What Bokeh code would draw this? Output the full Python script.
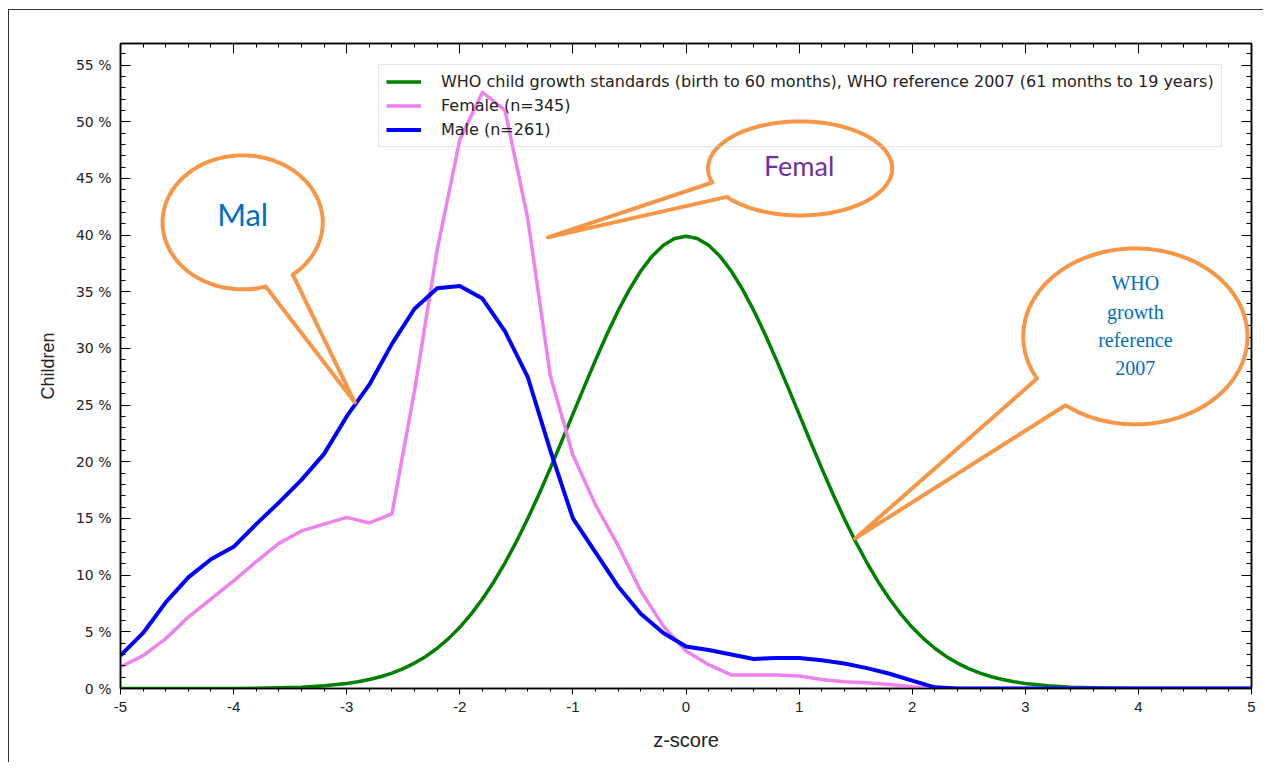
import numpy as np
from bokeh.plotting import figure
from bokeh.models import (Range1d, LinearAxis, SingleIntervalTicker, PrintfTickFormatter,
                          CustomJSTickFormatter, Legend, LegendItem)
from bokeh.core.properties import value
from bokeh.embed import file_html
from bokeh.resources import INLINE

# ---------------- data ----------------
z_score = [-5.0, -4.8, -4.6, -4.4, -4.2, -4.0, -3.8, -3.6, -3.4, -3.2,
           -3.0, -2.8, -2.6, -2.4, -2.2, -2.0, -1.8, -1.6, -1.4, -1.2,
           -1.0, -0.8, -0.6, -0.4, -0.2, 0.0, 0.2, 0.4, 0.6, 0.8,
           1.0, 1.2, 1.4, 1.6, 1.8, 2.0, 2.2, 2.4, 2.6, 2.8,
           3.0, 3.2, 3.4, 3.6, 3.8, 4.0, 4.2, 4.4, 4.6, 4.8, 5.0]

female_pct = [1.9, 2.9, 4.4, 6.3, 7.9, 9.5, 11.2, 12.8, 13.9, 14.5,
              15.1, 14.6, 15.4, 26.3, 38.7, 48.4, 52.6, 51.0, 41.5, 27.6,
              20.6, 16.2, 12.6, 8.6, 5.5, 3.3, 2.1, 1.2, 1.2, 1.2,
              1.1, 0.8, 0.6, 0.5, 0.35, 0.15, 0.0, 0.0, 0.0, 0.0,
              0.0, 0.0, 0.0, 0.0, 0.0, 0.0, 0.0, 0.0, 0.0, 0.0, 0.0]

male_pct = [2.9, 4.9, 7.6, 9.8, 11.4, 12.5, 14.5, 16.4, 18.4, 20.7,
            24.0, 26.8, 30.4, 33.5, 35.3, 35.5, 34.4, 31.5, 27.5, 21.0,
            15.0, 12.0, 9.0, 6.6, 4.9, 3.7, 3.4, 3.0, 2.6, 2.7,
            2.7, 2.5, 2.2, 1.8, 1.3, 0.7, 0.1, 0.0, 0.0, 0.0,
            0.0, 0.0, 0.0, 0.0, 0.0, 0.0, 0.0, 0.0, 0.0, 0.0, 0.0]

who_z = [-5.0, -4.5, -4.0, -3.8, -3.6, -3.4, -3.2,
         -3.0, -2.9, -2.8, -2.7, -2.6, -2.5, -2.4, -2.3, -2.2, -2.1,
         -2.0, -1.9, -1.8, -1.7, -1.6, -1.5, -1.4, -1.3, -1.2, -1.1,
         -1.0, -0.9, -0.8, -0.7, -0.6, -0.5, -0.4, -0.3, -0.2, -0.1,
         0.0, 0.1, 0.2, 0.3, 0.4, 0.5, 0.6, 0.7, 0.8, 0.9,
         1.0, 1.1, 1.2, 1.3, 1.4, 1.5, 1.6, 1.7, 1.8, 1.9,
         2.0, 2.1, 2.2, 2.3, 2.4, 2.5, 2.6, 2.7, 2.8, 2.9,
         3.0, 3.2, 3.4, 3.6, 3.8, 4.0, 4.5, 5.0]

who_pct = [0.00, 0.00, 0.01, 0.03, 0.06, 0.12, 0.24,
           0.44, 0.60, 0.79, 1.04, 1.36, 1.75, 2.24, 2.83, 3.55, 4.40,
           5.40, 6.56, 7.90, 9.40, 11.09, 12.95, 14.97, 17.14, 19.42, 21.79,
           24.20, 26.61, 28.97, 31.23, 33.32, 35.21, 36.83, 38.14, 39.10, 39.70,
           39.89, 39.70, 39.10, 38.14, 36.83, 35.21, 33.32, 31.23, 28.97, 26.61,
           24.20, 21.79, 19.42, 17.14, 14.97, 12.95, 11.09, 9.40, 7.90, 6.56,
           5.40, 4.40, 3.55, 2.83, 2.24, 1.75, 1.36, 1.04, 0.79, 0.60,
           0.44, 0.24, 0.12, 0.06, 0.03, 0.01, 0.00, 0.00]

series_labels = ["WHO child growth standards (birth to 60 months), WHO reference 2007 (61 months to 19 years)",
                 "Female (n=345)", "Male (n=261)"]

x_label = "z-score"
y_label = "Children"

# ---------------- figure ----------------
p = figure(width=1255, height=753, x_range=Range1d(-5, 5), y_range=Range1d(0, 56.9),
           output_backend="svg", toolbar_location=None,
           min_border_left=111, min_border_right=13, min_border_top=33, min_border_bottom=75,
           background_fill_color="white", border_fill_color="white")
p.styles = {"margin-left": "8px", "margin-top": "9px",
            "border-left": "1.5px solid #333333", "border-top": "1.5px solid #333333"}

p.xgrid.visible = False
p.ygrid.visible = False
p.outline_line_color = "black"
p.outline_line_width = 1.5

AX_FONT = "DejaVu Sans"

xa = p.xaxis[0]
xa.ticker = SingleIntervalTicker(interval=1, num_minor_ticks=5)
xa.formatter = PrintfTickFormatter(format="%d")
xa.axis_line_color = "black"
xa.axis_line_width = 1.5
xa.major_tick_in = 0
xa.major_tick_out = 6
xa.minor_tick_in = 0
xa.minor_tick_out = 3
xa.major_label_standoff = 7
xa.major_label_text_font = "Liberation Sans"
xa.major_label_text_font_size = "15px"
xa.major_label_text_color = "#222222"
xa.axis_label = x_label
xa.axis_label_text_font = "Liberation Sans"
xa.axis_label_text_font_style = "normal"
xa.axis_label_text_font_size = "20px"
xa.axis_label_text_color = "#222222"
xa.axis_label_standoff = 14

ya = p.yaxis[0]
ya.ticker = SingleIntervalTicker(interval=5, num_minor_ticks=5)
ya.formatter = PrintfTickFormatter(format="%d %%")
ya.axis_line_color = "black"
ya.axis_line_width = 1.5
ya.major_tick_in = 10
ya.major_tick_out = 0
ya.minor_tick_in = 5
ya.minor_tick_out = 0
ya.major_label_standoff = 9
ya.major_label_text_font = AX_FONT
ya.major_label_text_font_size = "14px"
ya.major_label_text_color = "#222222"
ya.axis_label = y_label
ya.axis_label_text_font = "Liberation Sans"
ya.axis_label_text_font_style = "normal"
ya.axis_label_text_font_size = "18px"
ya.axis_label_text_color = "#222222"
ya.axis_label_standoff = 15

empty = CustomJSTickFormatter(code="return ''")
top_ax = LinearAxis(ticker=SingleIntervalTicker(interval=1, num_minor_ticks=5), formatter=empty,
                    major_tick_in=10, major_tick_out=0, minor_tick_in=4, minor_tick_out=0,
                    major_label_standoff=0, major_label_text_font_size="1px",
                    axis_line_color="black", axis_line_width=1.5)
right_ax = LinearAxis(ticker=SingleIntervalTicker(interval=5, num_minor_ticks=5), formatter=empty,
                      major_tick_in=10, major_tick_out=0, minor_tick_in=5, minor_tick_out=0,
                      major_label_standoff=0, major_label_text_font_size="1px",
                      axis_line_color="black", axis_line_width=1.5)
p.add_layout(top_ax, "above")
p.add_layout(right_ax, "right")

# ---------------- curves ----------------
r_who = p.line(who_z, who_pct, line_color="#008000", line_width=3.5, line_join="round")
r_fem = p.line(z_score, female_pct, line_color="#EE82EE", line_width=3.5, line_join="round")
r_mal = p.line(z_score, male_pct, line_color="#0000FF", line_width=4, line_join="round")

legend = Legend(items=[LegendItem(label=series_labels[0], renderers=[r_who]),
                       LegendItem(label=series_labels[1], renderers=[r_fem]),
                       LegendItem(label=series_labels[2], renderers=[r_mal])],
                location=(258, 541), orientation="vertical",
                padding=7, margin=0, spacing=5, glyph_width=35, glyph_height=19,
                label_height=19, label_standoff=20,
                label_text_font=AX_FONT, label_text_font_size="16px", label_text_color="#222222",
                border_line_color="#cccccc", border_line_width=1.5,
                background_fill_alpha=0.0)
p.add_layout(legend, "center")

# ---------------- callouts (annotation geometry in data units) ----------------
ORANGE = "#F79646"


def bubble(cx, cy, ax, by, b1, b2, tip, n=240):
    t1 = np.arctan2((b1[1] - cy) / by, (b1[0] - cx) / ax)
    t2 = np.arctan2((b2[1] - cy) / by, (b2[0] - cx) / ax)
    d = (t2 - t1) % (2 * np.pi)
    if d > np.pi:
        t1, t2 = t2, t1
    t1 = t1 % (2 * np.pi)
    t2 = t2 % (2 * np.pi)
    if t2 < t1:
        t2 += 2 * np.pi
    ts = np.linspace(t2, t1 + 2 * np.pi, n)
    xs = list(cx + ax * np.cos(ts)) + [tip[0]]
    ys = list(cy + by * np.sin(ts)) + [tip[1]]
    return xs, ys


callouts = [
    dict(c=(-3.920, 41.12), a=0.708, b=5.91, b1=(-3.726, 35.74), b2=(-3.487, 36.62), tip=(-2.929, 25.24)),
    dict(c=(1.009, 45.88), a=0.814, b=4.15, b1=(0.239, 44.65), b2=(0.372, 43.41), tip=(-1.221, 39.80)),
    dict(c=(3.973, 31.06), a=0.991, b=7.76, b1=(3.106, 27.35), b2=(3.336, 24.79), tip=(1.496, 13.24)),
]
for cdef in callouts:
    xs, ys = bubble(cdef["c"][0], cdef["c"][1], cdef["a"], cdef["b"], cdef["b1"], cdef["b2"], cdef["tip"])
    p.patch(xs, ys, fill_color="white", line_color=ORANGE, line_width=4, line_join="round", level="overlay")

p.text(x=[-3.92], y=[41.9], text=["Mal"], text_font=value("Lato"), text_font_size="31px",
       text_color="#0070C0", text_align="center", text_baseline="middle", level="overlay")
p.text(x=[1.0], y=[46.15], text=["Femal"], text_font=value("Lato"), text_font_size="27px",
       text_color="#7030A0", text_align="center", text_baseline="middle", level="overlay")
p.text(x=[3.973, 3.973, 3.973, 3.973], y=[35.74, 33.18, 30.71, 28.24],
       text=["WHO", "growth", "reference", "2007"], text_font=value("Liberation Serif"),
       text_font_size="20px", text_color="#0070C0", text_align="center", text_baseline="middle",
       level="overlay")

open("out.html", "w").write(file_html(p, INLINE))
